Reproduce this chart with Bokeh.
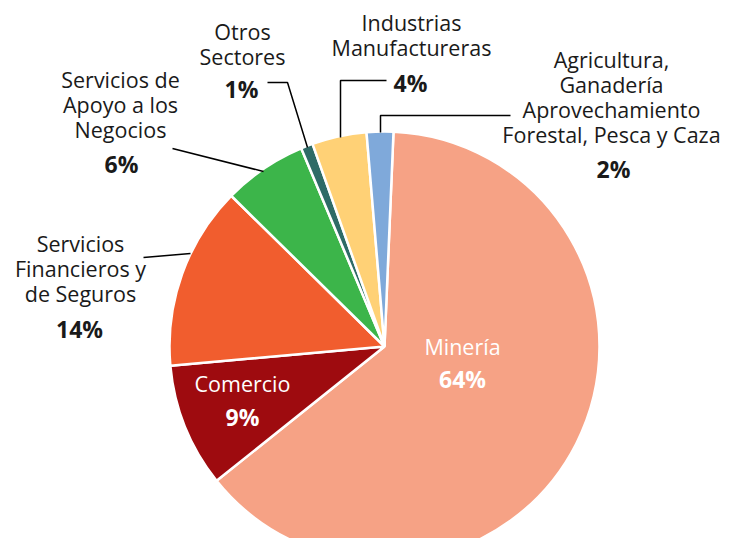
import math
from bokeh.plotting import figure
from bokeh.models import Range1d
from bokeh.core.properties import value
from bokeh.embed import file_html
from bokeh.resources import INLINE

# ---- data ----
sectors = ["Minería", "Comercio", "Servicios Financieros y de Seguros",
           "Servicios de Apoyo a los Negocios", "Otros Sectores",
           "Industrias Manufactureras",
           "Agricultura, Ganadería Aprovechamiento Forestal, Pesca y Caza"]
shares = [63.6, 9.3, 13.8, 6.3, 0.9, 4.1, 2.0]
label_lines = [["Minería"], ["Comercio"], ["Servicios", "Financieros y", "de Seguros"],
               ["Servicios de", "Apoyo a los", "Negocios"], ["Otros", "Sectores"],
               ["Industrias", "Manufactureras"],
               ["Agricultura,", "Ganadería", "Aprovechamiento", "Forestal, Pesca y Caza"]]

# ---- style / layout ----
colors = ["#F6A285", "#9E0B0F", "#F15D2E", "#3CB54A", "#2E6B67", "#FFD176", "#7FA9DA"]
H = 554
def sy(y):
    return H - y

CX, CY, R = 384, 346, 215
START = 2.4  # degrees clockwise from top where first slice begins
FONT = "Open Sans"
FS = "21.5px"
PFS = "23px"

# x center, first line y, percent x, percent y, text colour (screen px)
layout = [
    (462, 346, 462, 378, "white"),
    (242, 383, 242, 416, "white"),
    (80, 243, 79, 328, "#1a1a1a"),
    (120, 79, 121, 163, "#1a1a1a"),
    (242, 31, 241, 88, "#1a1a1a"),
    (411, 22, 410, 82, "#1a1a1a"),
    (611, 59, 613, 168, "#1a1a1a"),
]
GAP = 25
leaders = [
    None,
    None,
    [(143, 257), (190, 253)],
    [(172, 148), (263, 171)],
    [(267, 82), (287, 82), (307, 147)],
    [(386, 80), (340, 80), (340, 137)],
    [(510, 115), (380, 115), (380, 132)],
]

p = figure(width=724, height=538, x_range=Range1d(0, 724), y_range=Range1d(16, 554),
           output_backend="svg", toolbar_location=None, x_axis_type=None, y_axis_type=None,
           min_border=0)
p.grid.visible = False
p.outline_line_color = None
p.background_fill_color = "white"

total = sum(shares)
cum = START
starts, ends = [], []
for s in shares:
    a0 = cum
    a1 = cum + s / total * 360.0
    starts.append(math.radians(90 - a0))
    ends.append(math.radians(90 - a1))
    cum = a1

p.wedge(x=CX, y=sy(CY), radius=R, start_angle=starts, end_angle=ends, direction="clock",
        fill_color=colors, line_color="white", line_width=2.5)

for i, lines in enumerate(label_lines):
    x, y0, px, py, col = layout[i]
    xs = [x] * len(lines)
    ys = [sy(y0 + k * GAP) for k in range(len(lines))]
    p.text(x=xs, y=ys, text=lines, text_align="center", text_baseline="middle",
           text_font=value(FONT), text_font_size=FS, text_color=col)
    p.text(x=[px], y=[sy(py)], text=[f"{round(shares[i])}%"], text_align="center",
           text_baseline="middle", text_font=value(FONT), text_font_size=PFS,
           text_font_style="bold", text_color=col)
    if leaders[i]:
        p.line(x=[a for a, b in leaders[i]], y=[sy(b) for a, b in leaders[i]],
               line_color="black", line_width=1.5)

open("out.html", "w").write(file_html(p, INLINE))
